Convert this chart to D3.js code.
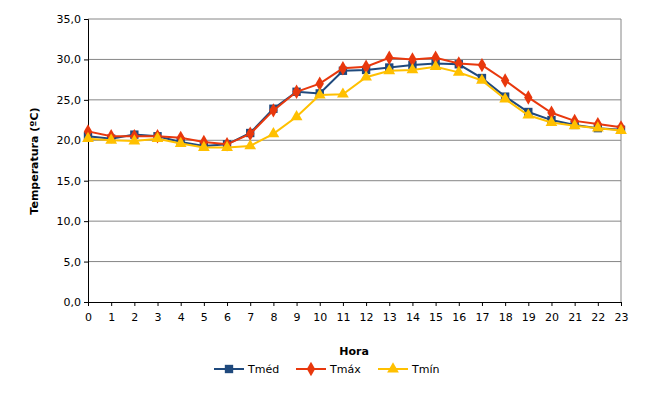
<!DOCTYPE html>
<html><head><meta charset="utf-8">
<script src="https://cdn.jsdelivr.net/npm/d3@7"></script>
<style>body{margin:0;background:#fff}text{font-family:Verdana,"DejaVu Sans",sans-serif}</style>
</head><body><svg id="c" width="664" height="406"></svg>
<script>
const hours = d3.range(24);
const tmed = [20.5,20.2,20.7,20.5,19.8,19.3,19.5,20.9,23.9,26.0,25.8,28.6,28.7,29.0,29.3,29.5,29.4,27.7,25.4,23.5,22.5,21.9,21.5,21.3];
const tmax = [21.1,20.5,20.5,20.5,20.3,19.8,19.5,20.8,23.7,26.0,27.0,28.9,29.1,30.2,30.0,30.2,29.5,29.3,27.4,25.3,23.4,22.4,22.0,21.6];
const tmin = [20.2,20.0,19.9,20.2,19.6,19.1,19.1,19.3,20.8,22.9,25.6,25.7,27.8,28.6,28.7,29.1,28.4,27.4,25.1,23.1,22.2,21.8,21.5,21.2];
const yTicks = [0,5,10,15,20,25,30,35];

const svg = d3.select("#c");
const x = d3.scaleLinear().domain([0,23]).range([88,621]);
const y = d3.scaleLinear().domain([0,35]).range([302,19]);
const fmt = v => d3.format(".1f")(v).replace(".", ",");

svg.append("g").selectAll("line").data(yTicks.slice(1)).join("line")
  .attr("x1",88).attr("x2",621).attr("y1",d=>y(d)).attr("y2",d=>y(d))
  .attr("stroke","#868686").attr("stroke-width",1);
svg.append("line").attr("x1",621).attr("x2",621).attr("y1",19).attr("y2",302).attr("stroke","#868686");

const ya = svg.append("g").attr("transform","translate(88,0)")
  .call(d3.axisLeft(y).tickValues(yTicks).tickFormat(fmt).tickSize(4));
const xa = svg.append("g").attr("transform","translate(0,302)")
  .call(d3.axisBottom(x).tickValues(hours).tickFormat(d=>d).tickSize(4));
[ya,xa].forEach(a=>{a.selectAll("path,line").attr("stroke","#000");a.selectAll("text").attr("font-size",11).attr("fill","#000")
  .attr("font-family","Verdana,'DejaVu Sans',sans-serif");});
xa.selectAll("text").attr("dy","1.1em");

svg.append("text").attr("transform","translate(38,161) rotate(-90)").attr("text-anchor","middle")
  .attr("font-size",11).attr("font-weight","bold").text("Temperatura (ºC)");
svg.append("text").attr("x",354).attr("y",355).attr("text-anchor","middle")
  .attr("font-size",11).attr("font-weight","bold").text("Hora");

const series = [
  {name:"Tméd", vals:tmed, color:"#1F497D", shape:d3.symbolSquare, size:70},
  {name:"Tmáx", vals:tmax, color:"#E8380D", shape:d3.symbolDiamond, size:60},
  {name:"Tmín", vals:tmin, color:"#FFC000", shape:d3.symbolTriangle, size:60}
];
const line = d3.line().x((d,i)=>x(i)).y(d=>y(d));
series.forEach(s=>{
  const g = svg.append("g");
  g.append("path").attr("d",line(s.vals)).attr("fill","none").attr("stroke",s.color).attr("stroke-width",2);
  g.selectAll("path.m").data(s.vals).join("path").attr("class","m")
    .attr("transform",(d,i)=>`translate(${x(i)},${y(d)})`)
    .attr("d",d3.symbol(s.shape,s.size)).attr("fill",s.color);
});

const lg = svg.append("g").attr("transform","translate(214,369)");
series.forEach((s,i)=>{
  const g = lg.append("g").attr("transform",`translate(${i*82},0)`);
  g.append("line").attr("x1",0).attr("x2",30).attr("stroke",s.color).attr("stroke-width",2);
  g.append("path").attr("transform","translate(15,0)").attr("d",d3.symbol(s.shape,s.size)).attr("fill",s.color);
  g.append("text").attr("x",34).attr("y",4).attr("font-size",11).text(s.name);
});
</script></body></html>
